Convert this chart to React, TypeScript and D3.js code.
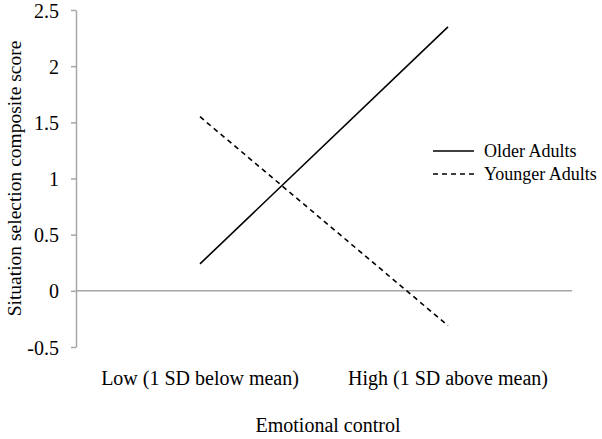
import React, { useEffect, useRef } from 'react'
import * as d3 from 'd3'

const categories = ['Low (1 SD below mean)', 'High (1 SD above mean)']
const olderAdults = [0.24, 2.35]
const youngerAdults = [1.55, -0.31]
const yTicks = [-0.5, 0, 0.5, 1, 1.5, 2, 2.5]
const seriesNames = ['Older Adults', 'Younger Adults']

const App = () => {
  const ref = useRef<SVGSVGElement>(null)

  useEffect(() => {
    const svg = d3.select(ref.current)
    svg.selectAll('*').remove()

    const width = 602
    const height = 439
    const left = 76
    const right = 572
    const top = 10
    const bottom = 347
    const font = '"Liberation Serif", "Times New Roman", serif'

    svg.attr('width', width).attr('height', height)

    const x = d3.scalePoint<string>().domain(categories).range([left, right]).padding(0.5)
    const y = d3.scaleLinear().domain([-0.5, 2.5]).range([bottom, top])

    // y axis
    const yAxis = svg
      .append('g')
      .attr('transform', `translate(${left},0)`)
      .call(d3.axisLeft(y).tickValues(yTicks).tickSize(5).tickSizeOuter(0).tickFormat((d) => String(d)))
    yAxis.select('.domain').attr('stroke', '#a6a6a6').attr('stroke-width', 1.5)
    yAxis.selectAll('.tick line').attr('stroke', '#a6a6a6').attr('stroke-width', 1.5)
    yAxis
      .selectAll('.tick text')
      .attr('x', -17)
      .attr('dy', '0.35em')
      .style('font-family', font)
      .style('font-size', '20px')
      .attr('fill', '#000')

    // zero line
    svg
      .append('line')
      .attr('x1', left)
      .attr('x2', right)
      .attr('y1', y(0))
      .attr('y2', y(0))
      .attr('stroke', '#a6a6a6')
      .attr('stroke-width', 1.5)

    // category labels
    svg
      .selectAll('text.cat')
      .data(categories)
      .enter()
      .append('text')
      .attr('class', 'cat')
      .attr('x', (d) => x(d)!)
      .attr('y', 385)
      .attr('text-anchor', 'middle')
      .style('font-family', font)
      .style('font-size', '20px')
      .text((d) => d)

    // axis titles
    svg
      .append('text')
      .attr('x', (left + right) / 2 + 4)
      .attr('y', 432)
      .attr('text-anchor', 'middle')
      .style('font-family', font)
      .style('font-size', '20px')
      .text('Emotional control')

    svg
      .append('text')
      .attr('transform', `translate(21,${(top + bottom) / 2}) rotate(-90)`)
      .attr('text-anchor', 'middle')
      .style('font-family', font)
      .style('font-size', '19.5px')
      .text('Situation selection composite score')

    const line = d3
      .line<number>()
      .x((_, i) => x(categories[i])!)
      .y((d) => y(d))

    const series = [
      { name: seriesNames[0], values: olderAdults, dash: null },
      { name: seriesNames[1], values: youngerAdults, dash: '5,4' },
    ]

    svg
      .selectAll('path.series')
      .data(series)
      .enter()
      .append('path')
      .attr('class', 'series')
      .attr('d', (d) => line(d.values))
      .attr('fill', 'none')
      .attr('stroke', '#000')
      .attr('stroke-width', 1.6)
      .attr('stroke-dasharray', (d) => d.dash)

    // legend
    const legend = svg
      .selectAll('g.legend')
      .data(series)
      .enter()
      .append('g')
      .attr('class', 'legend')
      .attr('transform', (_, i) => `translate(433,${151 + i * 23})`)

    legend
      .append('line')
      .attr('x1', 0)
      .attr('x2', 41)
      .attr('stroke', '#000')
      .attr('stroke-width', 1.6)
      .attr('stroke-dasharray', (d) => d.dash)

    legend
      .append('text')
      .attr('x', 51)
      .attr('y', 0)
      .attr('dy', '0.35em')
      .style('font-family', font)
      .style('font-size', '18px')
      .text((d) => d.name)
  }, [])

  return <svg ref={ref} style={{ position: 'absolute', left: 0, top: 0 }}></svg>
}

export default App
